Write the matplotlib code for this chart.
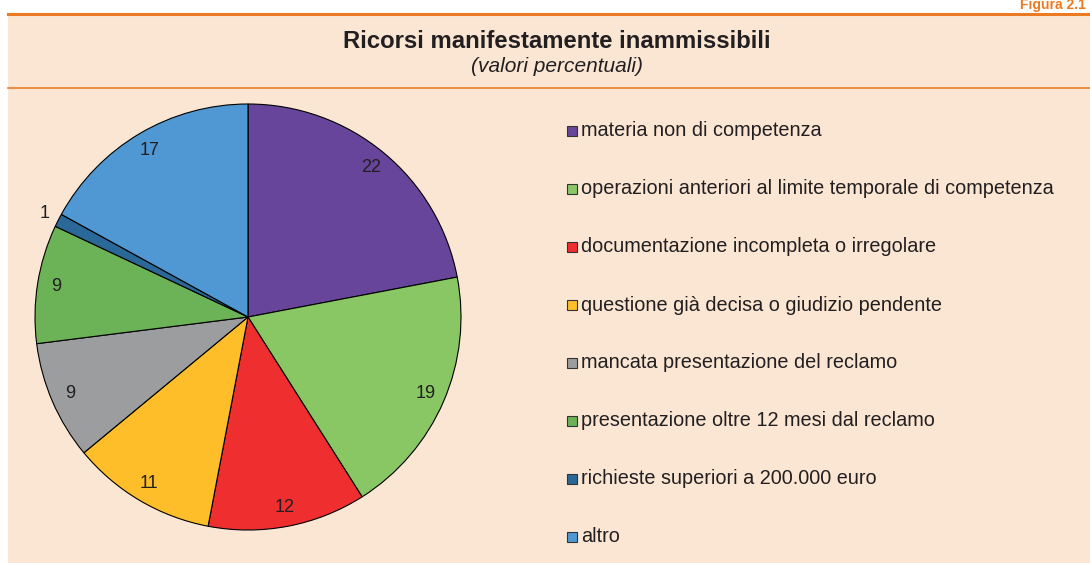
import numpy as np
import matplotlib.pyplot as plt
from matplotlib.patches import Rectangle
from matplotlib.lines import Line2D

plt.rcParams['font.family'] = ['Liberation Sans', 'DejaVu Sans']

categorie = ["materia non di competenza",
             "operazioni anteriori al limite temporale di competenza",
             "documentazione incompleta o irregolare",
             "questione già decisa o giudizio pendente",
             "mancata presentazione del reclamo",
             "presentazione oltre 12 mesi dal reclamo",
             "richieste superiori a 200.000 euro",
             "altro"]
valori = [22, 19, 12, 11, 9, 9, 1, 17]
colori = ["#67459b", "#88c764", "#ee2e2f", "#fdbe2a",
          "#9b9d9e", "#6cb256", "#2a6898", "#4f98d3"]

W, H = 1090, 563
bg = "#fbe6d4"
arancio = "#ec7a22"
testo = "#231f20"

fig = plt.figure(figsize=(W / 100, H / 100), dpi=100)
fig.patch.set_facecolor("white")

# pannello di sfondo e linee arancioni
fig.add_artist(Rectangle((8 / W, 0), 1, 1 - 14 / H, transform=fig.transFigure,
                         facecolor=bg, edgecolor="none", zorder=0))
fig.add_artist(Line2D([8 / W, 1], [1 - 14 / H] * 2, transform=fig.transFigure,
                      color=arancio, lw=2.2))
fig.add_artist(Line2D([8 / W, 1], [1 - 88 / H] * 2, transform=fig.transFigure,
                      color=arancio, lw=1.2))
fig.text(1086 / W, 1 - 12 / H, "Figura 2.1", color=arancio, fontsize=10,
         fontweight="bold", ha="right", va="bottom")

fig.text(557 / W, 1 - 42 / H, "Ricorsi manifestamente inammissibili",
         fontsize=17.2, fontweight="bold", color=testo, ha="center", va="center")
fig.text(557 / W, 1 - 67 / H, "(valori percentuali)", fontsize=15,
         style="italic", color=testo, ha="center", va="center")

# torta
cx, cy, r = 248, 317, 213
ax = fig.add_axes([(cx - r) / W, 1 - (cy + r) / H, 2 * r / W, 2 * r / H])
ax.set_facecolor("none")
wedges, _ = ax.pie(valori, colors=colori, startangle=90, counterclock=False,
                   wedgeprops=dict(edgecolor="black", linewidth=0.8))
ax.set_xlim(-1, 1)
ax.set_ylim(-1, 1)
ax.set_aspect("equal")

for w, v in zip(wedges, valori):
    ang = np.deg2rad((w.theta1 + w.theta2) / 2)
    d = 0.91 if v > 2 else 1.07
    ax.text(d * np.cos(ang), d * np.sin(ang), str(v), ha="center", va="center",
            fontsize=13, color=testo)

# legenda
y0, passo = 131, 58
for i, (c, lab) in enumerate(zip(colori, categorie)):
    y = y0 + i * passo
    fig.add_artist(Rectangle((567 / W, 1 - (y + 5) / H), 10 / W, 10 / H,
                             transform=fig.transFigure, facecolor=c,
                             edgecolor="#333333", lw=0.8))
    fig.text(581 / W, 1 - y / H, lab, fontsize=14.3, color=testo,
             ha="left", va="center")

fig.savefig("out.png", dpi=100, facecolor=fig.get_facecolor())
